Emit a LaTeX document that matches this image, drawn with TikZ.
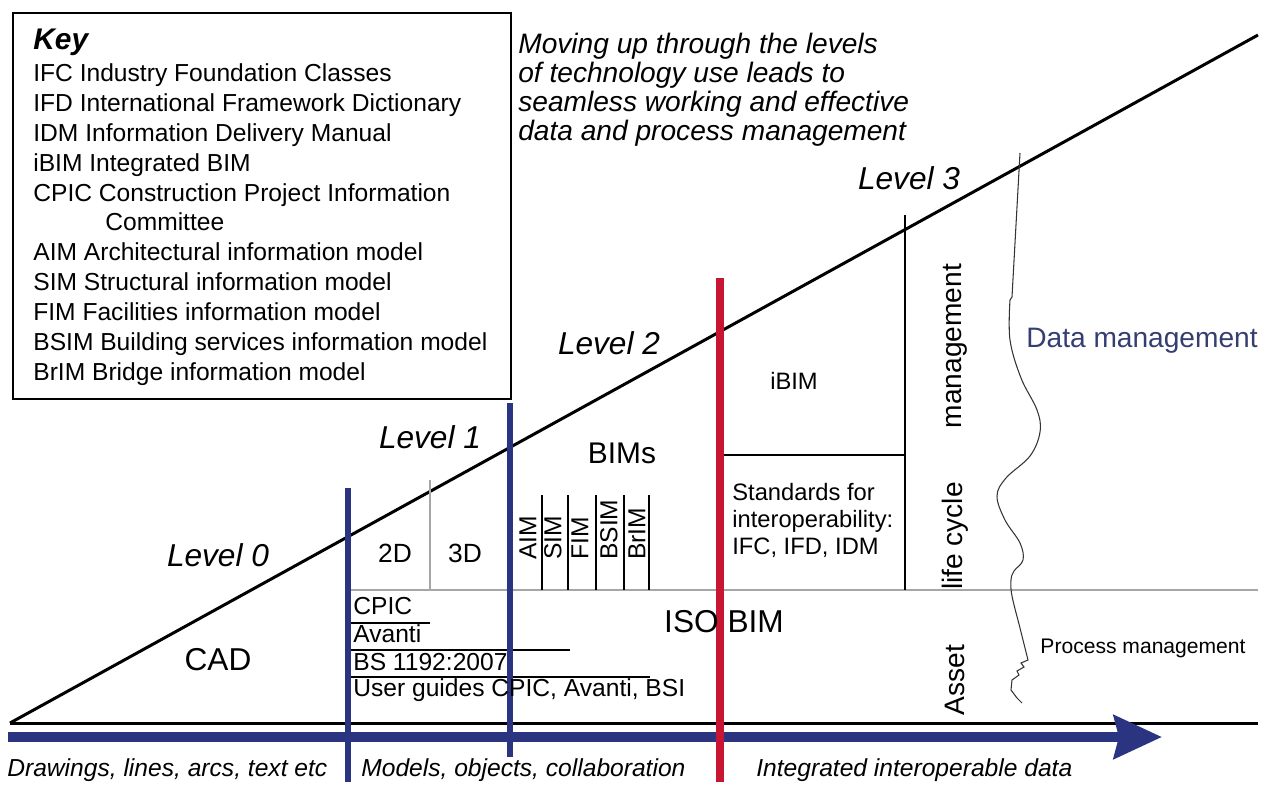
\documentclass[tikz,border=0pt]{standalone}
\usepackage{fontspec}
\setmainfont{Liberation Sans}
\usetikzlibrary{positioning, arrows.meta}

\definecolor{bimblue}{RGB}{42,52,128}
\definecolor{bimred}{RGB}{198,22,52}
\definecolor{datablue}{RGB}{52,62,112}

\begin{document}
\begin{tikzpicture}[
    x=0.2mm, y=-0.2mm,
    lvl/.style={font=\fontsize{18}{20}\selectfont\itshape, inner sep=0pt},
    big/.style={font=\fontsize{18}{20}\selectfont, inner sep=0pt},
    mid/.style={font=\fontsize{14}{16}\selectfont, inner sep=0pt},
    small/.style={font=\fontsize{13.5}{15.3}\selectfont, inner sep=0pt},
    vlbl/.style={font=\fontsize{14}{16}\selectfont, rotate=90, anchor=west, inner sep=0pt},
    life_lbl/.style={font=\fontsize{16}{18}\selectfont, rotate=90, inner sep=0pt},
    axis_lbl/.style={font=\fontsize{14}{16}\selectfont\itshape, anchor=west, inner sep=0pt},
    bold_line/.style={line width=1.7pt},
    thin_line/.style={line width=0.8pt},
    grey_line/.style={line width=1.1pt, gray!70},
    blue_line/.style={line width=3.2pt, bimblue},
    red_line/.style={line width=4.4pt, bimred},
    blue_bar/.style={line width=5.6pt, bimblue, -{Stealth[length=9.6mm, width=8.6mm, inset=1mm]}}
]
\useasboundingbox (0,0) rectangle (1270,787);

% Key
\node[draw, line width=0.9pt, minimum width=9.96cm, minimum height=7.72cm, anchor=north west] (key) at (12,12) {};
\node[font=\fontsize{14}{17}\selectfont, align=left, anchor=north west, inner sep=0pt] (keylist) at (33,29)
    {{\fontsize{17}{17}\selectfont\bfseries\itshape Key}\\[1pt]
     IFC Industry Foundation Classes\\
     IFD International Framework Dictionary\\
     IDM Information Delivery Manual\\
     iBIM Integrated BIM\\
     CPIC Construction Project Information\\
     \hspace*{1.44cm}Committee\\
     AIM Architectural information model\\
     SIM Structural information model\\
     FIM Facilities information model\\
     BSIM Building services information model\\
     BrIM Bridge information model};

\node[font=\fontsize{16}{16.5}\selectfont\itshape, align=left, anchor=north west, inner sep=0pt] (intro) at (518,33)
    {Moving up through the levels\\
     of technology use leads to\\
     seamless working and effective\\
     data and process management};

% Axes
\coordinate (origin) at (10,723);
\coordinate (apex) at (1258,35);
\coordinate (axis_end) at (1258,723);
\draw[bold_line] (origin) -- (apex);
\draw[bold_line] (origin) -- (axis_end);

% Timeline arrow
\coordinate (bar_start) at (8,737);
\coordinate (bar_end) at (1162,737);
\draw[blue_bar] (bar_start) -- (bar_end);

% Grid of the levels
\draw[grey_line] (348,590) -- (1258,590);
\draw[grey_line] (430,480) -- (430,590);
\foreach \xx in {542,568,596,624,649}
    \draw[thin_line] (\xx,495) -- (\xx,590);
\draw[thin_line] (720,455) -- (905,455);
\draw[thin_line] (905,215) -- (905,590);
\draw[thin_line] (350,623) -- (430,623);
\draw[thin_line] (350,650) -- (570,650);
\draw[thin_line] (350,677) -- (650,677);

% Level boundaries
\draw[blue_line] (348,488) -- (348,782);
\draw[blue_line] (510,403) -- (510,757);
\draw[red_line] (720,278) -- (720,782);

% Level names
\node[lvl] (lvl0) at (218,555) {Level 0};
\node[lvl] (lvl1) at (430,437) {Level 1};
\node[lvl] (lvl2) at (609,343) {Level 2};
\node[lvl] (lvl3) at (909,178) {Level 3};

% Contents of the levels
\node[big] (cad) at (218,660) {CAD};
\node[font=\fontsize{15}{17}\selectfont, inner sep=0pt] (twod) at (395,553) {2D};
\node[font=\fontsize{15}{17}\selectfont, inner sep=0pt] (threed) at (465,553) {3D};
\node[font=\fontsize{17}{19}\selectfont, inner sep=0pt] (bims) at (622,453) {BIMs};
\node[vlbl] (aim) at (528,560) {AIM};
\node[vlbl] (sim) at (553,560) {SIM};
\node[vlbl] (fim) at (580,560) {FIM};
\node[vlbl] (bsim) at (609,560) {BSIM};
\node[vlbl] (brim) at (637,560) {BrIM};
\node[mid, anchor=west] (cpic) at (353,606) {CPIC};
\node[mid, anchor=west] (avanti) at (353,634) {Avanti};
\node[mid, anchor=west] (bs) at (353,662) {BS 1192:2007};
\node[mid, anchor=west] (guides) at (353,690) {User guides CPIC, Avanti, BSI};
\node[big] (isobim) at (724,622) {ISO BIM};
\node[small] (ibim) at (794,381) {iBIM};
\node[small, align=left, anchor=north west] (standards) at (732,483)
    {Standards for\\ interoperability:\\ IFC, IFD, IDM};

% Asset life cycle management
\node[life_lbl] (asset) at (955,680) {Asset};
\node[life_lbl] (life) at (955,536) {life cycle};
\node[life_lbl] (mgmt) at (955,346) {management};

\draw[line width=0.6pt, black!80] (1020,153) -- (1012,297) -- (1010,300)
    plot[smooth, tension=0.6] coordinates {(1010,300) (1010,340) (1021,378) (1037,410) (1040,432) (1030,456) (1006,478) (997,496) (1005,520) (1020,543) (1023,560) (1014,571) (1011,580) (1012,596) (1020,628) (1028,660)}
    -- (1021,663) -- (1024,667) -- (1017,671) -- (1019,675) -- (1012,680) -- (1011,690) -- (1017,698) -- (1022,703);
\node[font=\fontsize{16}{18}\selectfont, text=datablue, inner sep=0pt] (datamgmt) at (1142,341) {Data management};
\node[font=\fontsize{12}{14}\selectfont, inner sep=0pt] (procmgmt) at (1143,648) {Process management};

% Axis labels
\node[axis_lbl] (drawings) at (7,770) {Drawings, lines, arcs, text etc};
\node[axis_lbl] (models) at (361,770) {Models, objects, collaboration};
\node[axis_lbl] (integrated) at (756,770) {Integrated interoperable data};

\end{tikzpicture}
\end{document}
